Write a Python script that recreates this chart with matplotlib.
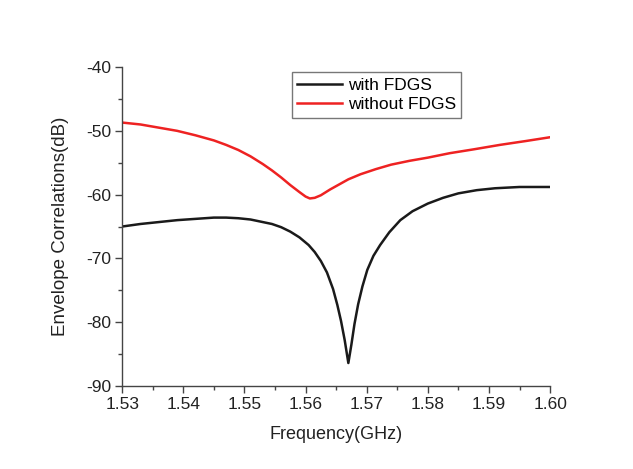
import matplotlib
matplotlib.use('Agg')
import matplotlib.pyplot as plt
from matplotlib.ticker import MultipleLocator

plt.rcParams['font.family'] = ['Liberation Sans', 'DejaVu Sans']
plt.rcParams['axes.unicode_minus'] = False

# with FDGS (black)
f_with = [1.530, 1.533, 1.536, 1.539, 1.542, 1.545, 1.547, 1.549, 1.551, 1.553,
          1.5545, 1.556, 1.5575, 1.559, 1.5605, 1.5615, 1.5625, 1.5635, 1.5645,
          1.5652, 1.5658, 1.5664, 1.5670, 1.5675, 1.5680, 1.5686, 1.5693, 1.5701,
          1.5711, 1.5722, 1.5737, 1.5755, 1.5775, 1.580, 1.5825, 1.585, 1.588,
          1.591, 1.595, 1.600]
ec_with = [-65.0, -64.6, -64.3, -64.0, -63.8, -63.6, -63.6, -63.7, -63.9, -64.3,
           -64.6, -65.1, -65.8, -66.7, -67.9, -69.0, -70.4, -72.2, -74.8,
           -77.3, -79.8, -82.8, -86.4, -83.5, -80.3, -77.2, -74.4, -71.8,
           -69.6, -67.9, -65.9, -64.0, -62.6, -61.4, -60.5, -59.8, -59.3,
           -59.0, -58.8, -58.8]

# without FDGS (red)
f_without = [1.530, 1.533, 1.536, 1.539, 1.542, 1.545, 1.547, 1.549, 1.551, 1.553,
             1.5545, 1.556, 1.5575, 1.559, 1.560, 1.5607, 1.5615, 1.5625, 1.564,
             1.5655, 1.567, 1.569, 1.5715, 1.574, 1.577, 1.580, 1.5836, 1.5875,
             1.5918, 1.596, 1.600]
ec_without = [-48.7, -49.0, -49.5, -50.0, -50.7, -51.5, -52.2, -53.0, -54.0, -55.2,
              -56.2, -57.3, -58.5, -59.6, -60.3, -60.6, -60.5, -60.1, -59.2,
              -58.4, -57.6, -56.8, -56.0, -55.3, -54.7, -54.2, -53.5, -52.9,
              -52.2, -51.6, -51.0]

xticks = [1.53, 1.54, 1.55, 1.56, 1.57, 1.58, 1.59, 1.60]
xlabels = ['1.53', '1.54', '1.55', '1.56', '1.57', '1.58', '1.59', '1.60']

fig = plt.figure(figsize=(6.33, 4.69), dpi=100)
ax = fig.add_axes([0.193, 0.177, 0.676, 0.68])

ax.plot(f_with, ec_with, color='#1a1a1a', lw=1.8, label='with FDGS')
ax.plot(f_without, ec_without, color='#ee2222', lw=1.8, label='without FDGS')

ax.set_xlim(1.53, 1.60)
ax.set_ylim(-90, -40)
ax.set_xticks(xticks)
ax.set_xticklabels(xlabels)
ax.xaxis.set_minor_locator(MultipleLocator(0.005))
ax.yaxis.set_major_locator(MultipleLocator(10))
ax.yaxis.set_minor_locator(MultipleLocator(5))

for s in ['top', 'right']:
    ax.spines[s].set_visible(False)
for s in ['left', 'bottom']:
    ax.spines[s].set_color('#444444')
    ax.spines[s].set_linewidth(1.0)
ax.tick_params(which='major', direction='out', length=5, width=1, color='#444444',
               labelsize=12.5, labelcolor='#222222', pad=3)
ax.tick_params(which='minor', direction='out', length=3, width=1, color='#444444')

ax.set_xlabel('Frequency(GHz)', fontsize=13, color='#222222', labelpad=10)
ax.set_ylabel('Envelope Correlations(dB)', fontsize=13.5, color='#222222', labelpad=12)

leg = ax.legend(loc='upper left', bbox_to_anchor=(0.397, 0.983), fontsize=12.5,
                frameon=True, fancybox=False, handlelength=2.6, handletextpad=0.3,
                borderpad=0.3, labelspacing=0.25, borderaxespad=0)
leg.get_frame().set_edgecolor('#555555')
leg.get_frame().set_linewidth(1.0)

fig.savefig('out.png', dpi=100)
